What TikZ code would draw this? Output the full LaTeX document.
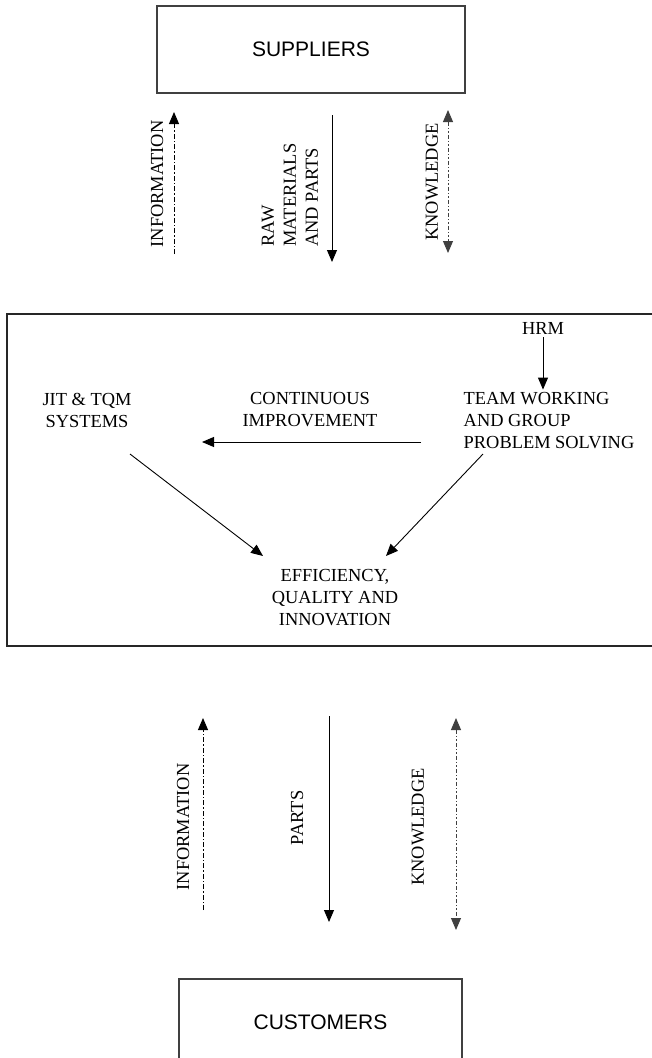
\documentclass[tikz,border=0pt]{standalone}
\usepackage{fontspec}
\setmainfont{Liberation Serif}
\newfontfamily\boxfont{Liberation Sans}
\usetikzlibrary{positioning,arrows.meta}

\begin{document}
\begin{tikzpicture}[x=1pt, y=-1pt, every node/.style={font=\fontsize{18.4}{22}\selectfont, inner sep=3pt},
    party/.style={draw=black!75, line width=1.1pt, font=\boxfont\fontsize{21}{25}\selectfont},
    flow/.style={-{Triangle[length=12pt,width=10pt]}, line width=0.9pt},
    info/.style={flow, dash pattern=on 5pt off 2pt on 1.5pt off 2pt},
    know/.style={{Triangle[length=12pt,width=10pt]}-{Triangle[length=12pt,width=10pt]}, line width=0.9pt, black!75,
      dash pattern=on 4pt off 2pt on 1.5pt off 2pt on 1.5pt off 2pt}]
        \useasboundingbox (0,0) rectangle (651,1058);

        % Suppliers and customers
        \node[party, minimum width=308pt, minimum height=87pt] (sup) at (311,49.5) {SUPPLIERS};
        \node[party, minimum width=283pt, minimum height=86pt] (cus) at (320.5,1022) {CUSTOMERS};

        % Flows between suppliers and the firm
        \coordinate (infoA) at (174,254);
        \coordinate (infoB) at (174,112);
        \coordinate (rawA) at (332,115);
        \coordinate (rawB) at (332,262);
        \coordinate (knowA) at (448,110);
        \coordinate (knowB) at (448,253);
        \draw[info] (infoA) -- (infoB);
        \draw[flow] (rawA) -- (rawB);
        \draw[know] (knowA) -- (knowB);
        \node[rotate=90] (infoup) at (157,184) {INFORMATION};
        \node[rotate=90, align=left, anchor=west, inner sep=0pt] (rawup) at (290,247) {RAW\\MATERIALS\\AND PARTS};
        \node[rotate=90] (knowup) at (432,182) {KNOWLEDGE};

        % The firm
        \draw[draw=black!85, line width=1.1pt] (7,314) rectangle (660,646);
        \node (hrm) at (543,328) {HRM};
        \node[align=left] (team) at (549,421) {TEAM WORKING\\AND GROUP\\PROBLEM SOLVING};
        \node[align=center] (jit) at (87,410) {JIT \& TQM\\SYSTEMS};
        \node[align=center] (ci) at (310,410) {CONTINUOUS\\IMPROVEMENT};
        \node[align=center] (eff) at (335,598) {EFFICIENCY,\\QUALITY AND\\INNOVATION};

        \coordinate (ciR) at (421,442);
        \coordinate (ciL) at (202,442);
        \coordinate (jitout) at (130,454);
        \coordinate (teamout) at (483,454);
        \coordinate (effL) at (263,556);
        \coordinate (effR) at (386,556);
        \draw[flow] (hrm) -- (hrm |- team.north);
        \draw[flow] (ciR) -- (ciL);
        \draw[flow] (jitout) -- (effL);
        \draw[flow] (teamout) -- (effR);

        % Flows between the firm and customers
        \coordinate (infoC) at (203,910);
        \coordinate (infoD) at (203,718);
        \coordinate (partsA) at (329,716);
        \coordinate (partsB) at (329,922);
        \coordinate (knowC) at (456,718);
        \coordinate (knowD) at (456,930);
        \draw[info] (infoC) -- (infoD);
        \draw[flow] (partsA) -- (partsB);
        \draw[know] (knowC) -- (knowD);
        \node[rotate=90] (infodown) at (183,827) {INFORMATION};
        \node[rotate=90] (partsdown) at (297,818) {PARTS};
        \node[rotate=90] (knowdown) at (418,827) {KNOWLEDGE};
      \end{tikzpicture}
\end{document}
